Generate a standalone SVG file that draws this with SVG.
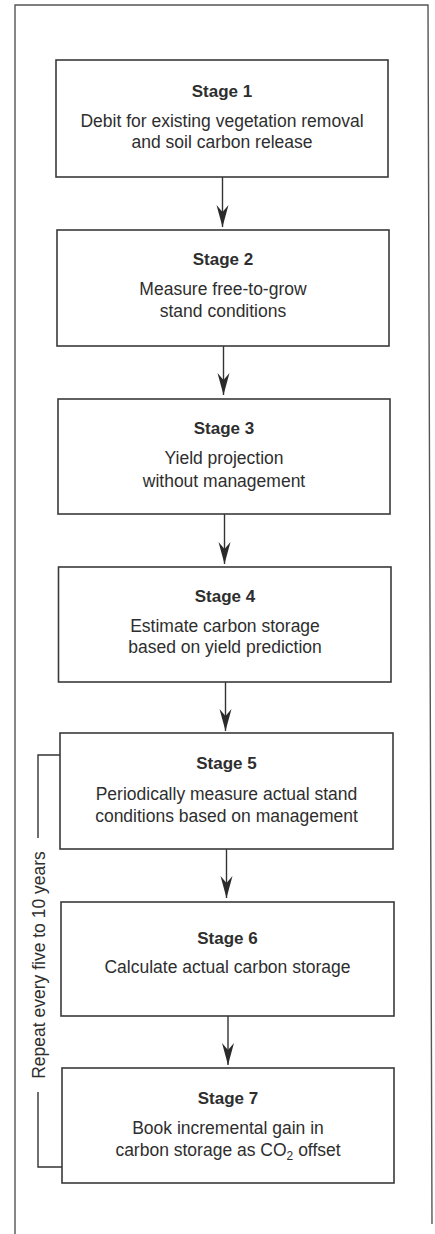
<svg xmlns="http://www.w3.org/2000/svg" width="435" height="1234" viewBox="0 0 435 1234">
<style>
.box{fill:#fff;stroke:#3a3a3a;stroke-width:1.6}
.t{font-family:"Liberation Sans",Arial,sans-serif;font-size:17.5px;fill:#2e2e2e;text-anchor:middle}
.h{font-weight:bold;font-size:17px}
.ln{fill:none;stroke:#333;stroke-width:1.4}
.frame{fill:none;stroke:#555;stroke-width:1.4}
</style>
<defs>
<marker id="ah" markerWidth="24" markerHeight="14" refX="23" refY="7" orient="auto" markerUnits="userSpaceOnUse" viewBox="0 0 24 14">
<path d="M23,7 L1,1 L8,7 L1,13 Z" fill="#2a2a2a"/>
</marker>
</defs>
<rect width="435" height="1234" fill="#fff"/>
<path class="frame" d="M15,1234 L15,5 L428,5 L432,1224"/>

<g id="connectors">
<line class="ln" x1="222.5" y1="177" x2="222.5" y2="227" marker-end="url(#ah)"/>
<line class="ln" x1="223.5" y1="346" x2="223.5" y2="395" marker-end="url(#ah)"/>
<line class="ln" x1="224.5" y1="514" x2="224.5" y2="564" marker-end="url(#ah)"/>
<line class="ln" x1="225.5" y1="682" x2="225.5" y2="731" marker-end="url(#ah)"/>
<line class="ln" x1="226.5" y1="849" x2="226.5" y2="898" marker-end="url(#ah)"/>
<line class="ln" x1="228" y1="1016" x2="228" y2="1065" marker-end="url(#ah)"/>
<path class="ln" d="M60,755 L38,755 L38,838"/>
<path class="ln" d="M38,1092 L38,1167 L62,1167"/>
<text class="t" transform="translate(44.5,965) rotate(-90)">Repeat every five to 10 years</text>
</g>

<g id="stage1">
<rect class="box" x="56" y="60" width="332" height="117"/>
<text class="t h" x="222" y="97">Stage 1</text>
<text class="t" x="222" y="127">Debit for existing vegetation removal</text>
<text class="t" x="222" y="148">and soil carbon release</text>
</g>
<g id="stage2">
<rect class="box" x="57" y="230" width="332" height="116"/>
<text class="t h" x="223" y="265">Stage 2</text>
<text class="t" x="223" y="295">Measure free-to-grow</text>
<text class="t" x="223" y="317">stand conditions</text>
</g>
<g id="stage3">
<rect class="box" x="58" y="399" width="332" height="115"/>
<text class="t h" x="224" y="434">Stage 3</text>
<text class="t" x="224" y="464">Yield projection</text>
<text class="t" x="224" y="487">without management</text>
</g>
<g id="stage4">
<rect class="box" x="58.5" y="567" width="332.5" height="115"/>
<text class="t h" x="225" y="602">Stage 4</text>
<text class="t" x="225" y="632">Estimate carbon storage</text>
<text class="t" x="225" y="653">based on yield prediction</text>
</g>
<g id="stage5">
<rect class="box" x="60" y="733" width="333" height="116"/>
<text class="t h" x="226.5" y="769">Stage 5</text>
<text class="t" x="226.5" y="800">Periodically measure actual stand</text>
<text class="t" x="226.5" y="822">conditions based on management</text>
</g>
<g id="stage6">
<rect class="box" x="61" y="902" width="333" height="114"/>
<text class="t h" x="227.5" y="944">Stage 6</text>
<text class="t" x="227.5" y="973">Calculate actual carbon storage</text>
</g>
<g id="stage7">
<rect class="box" x="62" y="1068" width="332" height="115"/>
<text class="t h" x="228" y="1104">Stage 7</text>
<text class="t" x="228" y="1134">Book incremental gain in</text>
<text class="t" x="228" y="1156">carbon storage as CO<tspan font-size="12" dy="4">2</tspan><tspan dy="-4"> offset</tspan></text>
</g>
</svg>
